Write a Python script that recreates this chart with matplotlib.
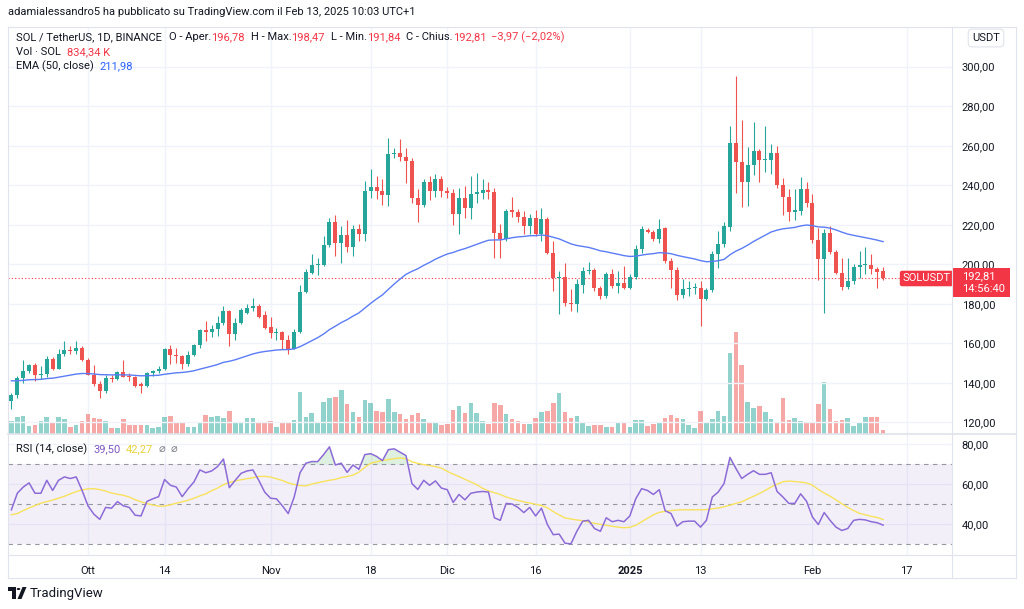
import matplotlib
matplotlib.use('Agg')
import matplotlib.pyplot as plt
import matplotlib.dates as mdates
from matplotlib.transforms import blended_transform_factory
import numpy as np
import pandas as pd

plt.rcParams['font.family'] = ['Roboto', 'DejaVu Sans']

# candele giornaliere SOL/USDT, 18 set 2024 -> 13 feb 2025
giorni = pd.date_range('2024-09-18', '2025-02-13', freq='D')

aperture = [130.6, 133.7, 142.5, 145.9, 148.9, 143.8, 144.3, 152.3, 147.2, 154.8,
            156.8, 156.2, 157.7, 151.8, 144.2, 139.4, 136.1, 142.5, 141.8, 145.5,
            143.6, 142.8, 139.4, 138.4, 144.8, 145.9, 147.2, 156.9, 154.3, 153.5,
            149.7, 154.3, 158.9, 166.6, 165.5, 167.0, 170.4, 176.6, 164.5, 170.4,
            175.4, 177.7, 178.8, 174.1, 168.2, 165.3, 165.6, 161.9, 157.2, 165.8,
            186.1, 195.7, 199.4, 199.5, 209.8, 221.6, 211.0, 214.7, 208.9, 218.0,
            215.2, 237.1, 239.2, 237.1, 235.1, 255.7, 256.5, 254.5, 252.4, 233.7,
            230.0, 241.4, 237.1, 243.1, 237.1, 236.3, 225.3, 233.4, 228.3, 235.7,
            236.3, 237.7, 236.8, 216.0, 212.6, 227.4, 226.6, 224.1, 219.4, 223.6,
            215.5, 222.8, 205.8, 193.2, 193.7, 180.5, 179.7, 189.5, 196.6, 196.9,
            188.1, 183.9, 194.9, 188.8, 190.6, 188.1, 193.5, 207.6, 217.5, 216.3,
            212.6, 218.2, 201.6, 197.1, 184.4, 187.3, 188.0, 188.1, 182.2, 186.8,
            205.3, 210.4, 219.0, 261.6, 252.0, 241.4, 250.2, 257.1, 252.7, 253.0,
            256.1, 240.2, 234.3, 226.6, 227.0, 238.0, 231.2, 212.3, 202.8, 215.7,
            206.2, 195.4, 188.6, 191.5, 198.6, 199.8, 199.6, 197.4, 196.78]
massimi = [134.7, 143.3, 151.8, 149.6, 150.0, 148.4, 153.5, 153.0, 157.2, 161.0,
           158.5, 161.0, 158.5, 152.5, 148.9, 140.8, 144.2, 143.8, 146.2, 151.8,
           144.8, 143.3, 140.4, 145.5, 146.5, 148.5, 157.7, 158.9, 157.7, 154.3,
           156.0, 159.4, 167.0, 171.2, 169.2, 173.7, 178.8, 177.1, 172.9, 177.8,
           180.0, 182.7, 179.8, 176.3, 173.2, 167.8, 166.1, 164.2, 167.0, 189.3,
           197.4, 205.0, 203.3, 214.3, 223.6, 224.8, 219.4, 222.4, 219.7, 220.2,
           242.2, 248.2, 244.7, 243.1, 263.9, 259.1, 263.3, 259.1, 254.0, 238.0,
           243.1, 244.7, 245.9, 244.7, 239.3, 238.0, 238.5, 239.7, 244.7, 246.4,
           243.1, 241.4, 238.5, 220.2, 227.9, 234.1, 227.9, 227.0, 225.5, 227.4,
           228.4, 224.0, 211.8, 196.6, 200.8, 187.3, 192.4, 198.8, 201.3, 198.2,
           189.0, 196.2, 197.4, 196.6, 199.1, 194.9, 209.8, 219.4, 218.5, 217.5,
           222.8, 218.9, 203.0, 198.5, 192.4, 191.5, 190.6, 191.5, 188.1, 206.7,
           216.9, 221.6, 270.0, 295.5, 273.0, 259.5, 271.8, 258.3, 270.1, 260.8,
           260.0, 243.6, 238.0, 238.0, 244.2, 241.4, 235.8, 218.5, 217.7, 219.4,
           207.0, 203.3, 203.0, 200.0, 206.7, 208.7, 205.3, 198.5, 198.47]
minimi = [126.6, 132.5, 140.0, 144.8, 140.8, 141.8, 142.8, 146.5, 147.0, 153.5,
          154.6, 154.5, 151.3, 143.8, 138.3, 132.3, 134.9, 140.4, 141.5, 142.8,
          141.1, 137.7, 134.9, 138.0, 143.5, 145.0, 146.5, 149.6, 150.1, 147.2,
          148.7, 153.5, 157.7, 161.0, 163.0, 163.6, 169.5, 158.5, 161.9, 169.7,
          174.8, 176.3, 172.6, 167.2, 162.7, 161.9, 157.2, 154.6, 156.9, 165.0,
          185.6, 194.9, 194.5, 199.1, 208.5, 204.2, 200.8, 206.2, 204.2, 212.0,
          211.8, 233.7, 233.2, 229.9, 229.5, 254.0, 252.4, 241.0, 230.9, 221.6,
          229.0, 232.6, 234.0, 234.0, 233.7, 219.7, 215.2, 223.6, 222.8, 231.2,
          232.9, 232.9, 203.3, 203.3, 211.8, 224.0, 221.4, 215.2, 215.2, 214.3,
          211.8, 205.0, 186.4, 174.9, 178.8, 176.3, 175.9, 185.6, 194.9, 186.4,
          182.2, 182.8, 188.1, 185.6, 187.3, 187.3, 192.5, 205.8, 216.0, 211.8,
          210.9, 200.5, 188.1, 181.7, 183.0, 183.9, 184.8, 168.7, 181.7, 186.0,
          197.9, 208.5, 216.9, 236.3, 229.0, 229.5, 245.0, 241.9, 246.8, 245.9,
          238.5, 225.0, 221.9, 222.3, 225.0, 229.0, 210.9, 191.9, 175.4, 205.0,
          194.9, 186.8, 187.6, 189.8, 193.2, 194.9, 194.9, 188.1, 191.84]
chiusure = [133.7, 142.5, 145.9, 148.9, 143.8, 144.3, 152.3, 147.2, 154.8, 156.8,
            156.2, 157.7, 151.8, 144.2, 139.4, 136.1, 142.5, 141.8, 145.5, 143.2,
            142.8, 138.3, 138.4, 144.8, 145.9, 147.2, 156.9, 154.0, 153.5, 149.7,
            154.3, 158.9, 166.6, 165.5, 167.2, 170.4, 176.6, 164.5, 170.4, 176.7,
            177.7, 178.8, 173.5, 167.8, 165.3, 165.8, 161.9, 157.2, 165.8, 186.1,
            196.2, 199.4, 200.0, 209.8, 221.6, 211.0, 214.7, 208.9, 218.0, 215.2,
            237.1, 239.2, 237.1, 235.1, 255.7, 256.5, 254.5, 252.4, 233.7, 230.0,
            241.4, 237.1, 243.1, 237.1, 236.3, 225.3, 233.7, 228.7, 235.5, 236.5,
            237.7, 236.8, 216.0, 212.6, 227.0, 226.6, 224.1, 219.4, 223.6, 215.5,
            222.8, 205.8, 193.2, 193.7, 180.5, 179.7, 189.8, 196.6, 196.8, 188.1,
            183.9, 194.9, 189.0, 190.3, 188.1, 193.5, 207.6, 217.7, 216.3, 212.6,
            217.7, 201.6, 197.1, 184.4, 187.3, 188.2, 188.6, 182.2, 186.8, 205.3,
            210.4, 219.4, 261.6, 252.0, 241.4, 250.2, 257.1, 252.7, 253.5, 256.1,
            240.2, 234.3, 226.6, 227.4, 238.0, 231.2, 212.3, 202.8, 215.7, 206.2,
            195.4, 188.6, 191.5, 198.6, 199.6, 200.2, 197.4, 196.2, 192.81]

# volumi in milioni di SOL
volumi = [2.77, 3.61, 3.82, 1.61, 1.88, 2.65, 3.48, 2.36, 3.61, 3.13,
          1.40, 1.94, 2.77, 4.23, 3.28, 3.19, 2.65, 1.25, 1.25, 3.07,
          1.81, 1.81, 1.94, 1.94, 1.25, 1.40, 3.48, 3.82, 2.44, 2.23,
          1.52, 1.52, 2.57, 4.03, 3.61, 3.82, 3.34, 4.86, 2.50, 2.23,
          3.28, 3.40, 2.44, 2.23, 2.77, 1.40, 2.44, 2.57, 2.92, 8.82,
          3.61, 4.38, 2.44, 6.74, 7.51, 7.66, 9.18, 6.26, 4.53, 3.61,
          7.15, 6.40, 4.74, 4.65, 7.30, 4.53, 4.17, 3.13, 4.03, 4.32,
          3.13, 2.23, 2.44, 1.88, 2.09, 5.01, 5.90, 4.32, 6.40, 4.44,
          2.71, 2.02, 6.40, 6.05, 4.11, 3.13, 2.71, 2.02, 2.02, 3.40,
          4.53, 4.86, 6.40, 8.49, 4.53, 3.28, 3.75, 2.36, 1.73, 1.88,
          1.88, 1.40, 1.52, 2.23, 2.23, 1.52, 2.92, 2.92, 1.73, 2.02,
          2.57, 3.40, 3.96, 3.28, 3.19, 1.94, 1.19, 4.86, 2.44, 3.13,
          4.86, 3.69, 16.96, 21.34, 14.39, 6.74, 5.36, 5.78, 4.53, 3.13,
          2.57, 7.51, 2.98, 3.28, 2.77, 2.57, 2.57, 6.26, 10.91, 5.22,
          2.77, 2.92, 3.34, 1.73, 2.57, 3.48, 3.48, 3.48, 0.83]

ema_iniziale = 141.0

rsi = [47.2, 55.5, 58.6, 60.7, 55.5, 55.5, 62.0, 56.9, 62.0, 63.7,
       62.9, 63.7, 56.9, 49.2, 45.0, 42.4, 48.4, 48.0, 51.3, 49.2,
       48.4, 44.5, 44.1, 51.4, 52.7, 53.8, 62.4, 59.5, 58.6, 53.8,
       57.8, 61.2, 67.2, 65.8, 66.7, 68.9, 72.7, 58.3, 62.0, 65.5,
       66.7, 67.2, 62.0, 56.1, 53.0, 52.7, 49.2, 45.3, 53.5, 65.8,
       70.6, 71.4, 71.4, 74.9, 78.8, 69.7, 70.6, 66.0, 69.7, 67.5,
       74.9, 75.4, 74.0, 71.9, 77.4, 77.8, 76.1, 74.4, 60.4, 57.4,
       62.0, 59.5, 61.7, 58.1, 57.3, 50.9, 54.9, 52.2, 55.5, 56.1,
       56.4, 56.1, 43.2, 41.9, 50.4, 50.1, 48.4, 45.8, 48.4, 44.1,
       48.0, 39.8, 34.7, 35.0, 30.4, 30.1, 36.4, 41.5, 41.9, 37.8,
       36.4, 43.2, 41.2, 41.9, 41.2, 44.1, 52.7, 57.8, 56.9, 54.9,
       57.3, 46.7, 45.3, 39.0, 41.2, 41.5, 41.5, 38.5, 41.9, 53.6,
       56.1, 60.4, 73.5, 68.0, 62.9, 65.0, 66.8, 65.0, 65.0, 65.8,
       56.4, 53.6, 50.4, 50.4, 55.2, 51.5, 43.6, 39.8, 45.8, 41.9,
       38.5, 36.8, 37.8, 41.9, 42.4, 42.1, 41.2, 40.7, 39.5]
rsi_media = [44.7, 45.3, 46.8, 48.1, 49.3, 50.5, 51.3, 52.1, 53.0, 54.0,
             55.2, 56.3, 57.2, 57.7, 57.8, 57.3, 56.6, 55.6, 55.0, 54.5,
             53.6, 52.3, 51.2, 50.3, 49.6, 49.0, 49.1, 49.7, 50.5, 51.2,
             52.0, 53.0, 54.2, 55.2, 56.8, 58.1, 59.8, 60.9, 61.7, 62.3,
             62.8, 63.3, 63.9, 64.0, 63.6, 62.8, 61.9, 60.7, 59.9, 59.4,
             59.2, 60.1, 60.8, 61.4, 62.0, 62.5, 63.4, 63.9, 64.6, 66.1,
             68.5, 70.6, 71.3, 72.0, 72.4, 72.9, 73.2, 72.8, 71.3, 70.5,
             69.9, 69.4, 68.9, 68.1, 66.5, 65.1, 63.9, 62.5, 61.2, 59.8,
             58.0, 56.7, 55.8, 54.9, 53.6, 52.7, 51.9, 51.2, 50.6, 50.0,
             49.4, 48.2, 46.3, 44.6, 43.1, 42.6, 42.1, 41.7, 41.0, 40.4,
             39.9, 39.4, 38.9, 38.5, 38.2, 38.4, 39.4, 41.2, 42.9, 44.7,
             45.9, 46.4, 46.8, 47.1, 47.2, 47.2, 47.2, 47.2, 47.3, 47.7,
             48.1, 48.7, 49.5, 50.4, 51.2, 52.6, 54.0, 55.4, 56.9, 58.7,
             60.0, 61.3, 61.6, 61.4, 61.1, 60.7, 59.6, 57.4, 55.6, 54.0,
             52.2, 50.2, 48.4, 46.8, 45.4, 44.7, 43.9, 43.3, 42.3]

ultimo = 192.81
date_tick = ['2024-10-01', '2024-10-14', '2024-11-01', '2024-11-18', '2024-12-01',
             '2024-12-16', '2025-01-01', '2025-01-13', '2025-02-01', '2025-02-17']
etichette_tick = ['Ott', '14', 'Nov', '18', 'Dic', '16', '2025', '13', 'Feb', '17']
livelli_prezzo = [120, 140, 160, 180, 200, 220, 240, 260, 280, 300]
livelli_rsi = [40, 60, 80]

VERDE = '#26a69a'
ROSSO = '#ef5350'
TESTO = '#131722'
GRIGLIA = '#f0f3fa'
BORDO = '#e0e3eb'

W, H = 1024, 609
fig = plt.figure(figsize=(W / 100, H / 100), dpi=100)
fig.patch.set_facecolor('white')


def rett(l, t, r, b):
    return [l / W, 1 - b / H, (r - l) / W, (b - t) / H]


def fx(x):
    return x / W


def fy(y):
    return 1 - y / H


x = mdates.date2num(giorni)
o = np.array(aperture)
h = np.array(massimi)
l = np.array(minimi)
c = np.array(chiusure)
su = c >= o
colori = np.where(su, VERDE, ROSSO)

x0 = x[0] - 0.58
x1 = x[0] + 159.7
xt = mdates.date2num(pd.to_datetime(date_tick))

# volume (sotto) e prezzo (sopra) nello stesso riquadro
axv = fig.add_axes(rett(8, 27, 952, 434))
ax = fig.add_axes(rett(8, 27, 952, 434), sharex=axv)
ax.patch.set_alpha(0)

axv.bar(x, volumi, width=0.78, color=colori, alpha=0.5, linewidth=0)
axv.set_ylim(0, 84.9)
axv.set_yticks([])
for v in xt:
    axv.axvline(v, color=GRIGLIA, lw=1, zorder=0)
for p in livelli_prezzo:
    axv.axhline(114.1, color='none')
for s in axv.spines.values():
    s.set_visible(False)

for p in livelli_prezzo:
    ax.axhline(p, color=GRIGLIA, lw=1, zorder=0)
ax.vlines(x, l, h, colors=colori, lw=0.8, zorder=2)
corpo = np.maximum(np.abs(c - o), 0.45)
ax.bar(x, corpo, bottom=np.minimum(o, c), width=0.68, color=colori, linewidth=0, zorder=3)

# EMA 50 sulle chiusure
alfa = 2 / 51
ema = [ema_iniziale]
for v in chiusure[1:]:
    ema.append(ema[-1] + alfa * (v - ema[-1]))
ax.plot(x, ema, color='#5b7cf5', lw=1.0, zorder=4)

ax.axhline(ultimo, color='#f23645', lw=0.8, ls=(0, (1, 2)), zorder=1)
ax.set_xlim(x0, x1)
ax.set_ylim(114.1, 320.1)
ax.yaxis.tick_right()
ax.set_yticks(livelli_prezzo)
ax.set_yticklabels([f'{p:.2f}'.replace('.', ',') for p in livelli_prezzo])
ax.tick_params(axis='y', length=0, pad=7, labelsize=8, labelcolor=TESTO)
ax.tick_params(axis='x', length=0, labelbottom=False)
axv.tick_params(axis='x', length=0, labelbottom=False)
for s in ax.spines.values():
    s.set_visible(False)

tb = blended_transform_factory(ax.transAxes, ax.transData)
ax.text(0.9985, ultimo, 'SOLUSDT', transform=tb, ha='right', va='center',
        color='white', fontsize=8,
        bbox=dict(boxstyle='round,pad=0.25,rounding_size=0.2', fc='#f23645', ec='none'), zorder=6)

# pannello RSI
axr = fig.add_axes(rett(8, 434, 952, 555), sharex=axv)
r = np.array(rsi)
axr.axhspan(30, 70, color='#7e57c2', alpha=0.09, lw=0)
for v in livelli_rsi:
    axr.axhline(v, color=GRIGLIA, lw=1, zorder=0)
for v in xt:
    axr.axvline(v, color=GRIGLIA, lw=1, zorder=0)
for v in [30, 50, 70]:
    axr.axhline(v, color='#9598a1', lw=0.8, ls=(0, (4, 4)), zorder=1)
axr.fill_between(x, 70, r, where=r > 70, interpolate=True, color='#4caf50', alpha=0.18, lw=0)
axr.plot(x, rsi_media, color='#f7e25c', lw=1.0, zorder=3)
axr.plot(x, r, color='#8c6bd6', lw=1.1, zorder=4)
axr.set_xlim(x0, x1)
axr.set_ylim(24.5, 85.25)
axr.yaxis.tick_right()
axr.set_yticks(livelli_rsi)
axr.set_yticklabels([f'{v:.2f}'.replace('.', ',') for v in livelli_rsi])
axr.tick_params(axis='y', length=0, pad=7, labelsize=8, labelcolor=TESTO)
axr.set_xticks(xt)
axr.set_xticklabels(etichette_tick)
axr.tick_params(axis='x', length=0, pad=8, labelsize=8, labelcolor=TESTO)
for t in axr.get_xticklabels():
    if t.get_text() == '2025':
        t.set_fontweight('bold')
for s in axr.spines.values():
    s.set_visible(False)

# bordi e separatori
fig.add_artist(plt.Line2D([fx(8), fx(1016)], [fy(27), fy(27)], color=BORDO, lw=0.8))
fig.add_artist(plt.Line2D([fx(8), fx(1016)], [fy(434), fy(434)], color=BORDO, lw=1.2))
fig.add_artist(plt.Line2D([fx(8), fx(1016)], [fy(555), fy(555)], color=BORDO, lw=0.8))
fig.add_artist(plt.Line2D([fx(8), fx(1016)], [fy(578), fy(578)], color=BORDO, lw=0.8))
fig.add_artist(plt.Line2D([fx(952), fx(952)], [fy(27), fy(578)], color=BORDO, lw=0.8))
fig.add_artist(plt.Line2D([fx(1016), fx(1016)], [fy(27), fy(578)], color=BORDO, lw=0.8))
fig.add_artist(plt.Line2D([fx(8), fx(8)], [fy(27), fy(578)], color=BORDO, lw=0.8))

# etichetta prezzo ultimo
fig.add_artist(plt.Rectangle((fx(952), fy(297)), fx(58), 29 / H, color='#f23645', lw=0))
fig.text(fx(962), fy(276.5), '192,81', color='white', fontsize=8, va='center')
fig.text(fx(962), fy(289.5), '14:56:40', color='white', fontsize=8, va='center')

fig.text(fx(986), fy(38), 'USDT', color=TESTO, fontsize=8, va='center', ha='center',
         bbox=dict(boxstyle='round,pad=0.35', fc='white', ec=BORDO, lw=0.8))

rend = fig.canvas.get_renderer()


def scrivi(x, y, pezzi, size=8):
    for testo, colore, spazio in pezzi:
        t = fig.text(fx(x), fy(y), testo, color=colore, fontsize=size, va='center')
        x += t.get_window_extent(renderer=rend).width + spazio


rosso_t = '#f23645'
scrivi(8, 12, [('adamialessandro5 ha pubblicato su TradingView.com il Feb 13, 2025 10:03 UTC+1', TESTO, 0)])
scrivi(16, 37, [('SOL / TetherUS, 1D, BINANCE', TESTO, 7),
                ('O - Aper.', TESTO, 0), ('196,78', rosso_t, 6),
                ('H - Max.', TESTO, 0), ('198,47', rosso_t, 6),
                ('L - Min.', TESTO, 0), ('191,84', rosso_t, 6),
                ('C - Chius.', TESTO, 0), ('192,81', rosso_t, 5),
                ('−3,97 (−2,02%)', rosso_t, 0)])
scrivi(16, 52, [('Vol · SOL', TESTO, 6), ('834,34 K', rosso_t, 0)])
scrivi(16, 66, [('EMA (50, close)', TESTO, 6), ('211,98', '#2962ff', 0)])
scrivi(16, 449, [('RSI (14, close)', TESTO, 6), ('39,50', '#7e57c2', 5),
                 ('42,27', '#e8d33a', 6), ('⌀', '#787b86', 5), ('⌀', '#787b86', 0)])

# logo TradingView
fig.add_artist(plt.Polygon([(fx(8), fy(587)), (fx(15.5), fy(587)), (fx(15.5), fy(599)),
                            (fx(12), fy(599)), (fx(12), fy(590.5)), (fx(8), fy(590.5))],
                           closed=True, color=TESTO, lw=0))
fig.add_artist(plt.Circle((fx(18.5), fy(589)), 1.8 / W, color=TESTO, lw=0))
fig.add_artist(plt.Polygon([(fx(17.5), fy(599)), (fx(21.5), fy(599)), (fx(26.5), fy(587)),
                            (fx(22.5), fy(587))], closed=True, color=TESTO, lw=0))
fig.text(fx(30), fy(593), 'TradingView', color=TESTO, fontsize=9.5, va='center')

fig.savefig('out.png', dpi=100, facecolor='white')
